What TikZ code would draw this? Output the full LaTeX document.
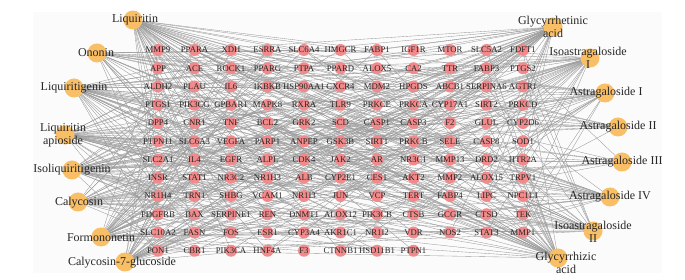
\documentclass[tikz,border=0pt]{standalone}
\usepackage{fontspec}
\setmainfont{Liberation Serif}
\definecolor{tred}{HTML}{F28A8C}
\definecolor{corange}{HTML}{F9BF66}
\definecolor{edgegray}{HTML}{9A9A9A}
\definecolor{bggray}{HTML}{FBFBFB}
\pgfdeclarelayer{bg}
\pgfdeclarelayer{edges}
\pgfsetlayers{bg,edges,main}
\tikzset{
  tdot/.style={circle,fill=tred,draw=none,minimum size=12pt,inner sep=0pt},
  tlab/.style={font=\fontsize{8.7}{9}\selectfont,inner sep=0pt,text=black!85},
  cdot/.style={circle,fill=corange,draw=none,minimum size=19pt,inner sep=0pt},
  clab/.style={font=\fontsize{12}{13}\selectfont,inner sep=0pt,align=center,text=black!85},
  link/.style={draw=edgegray,line width=0.35pt}
}
\begin{document}
\begin{tikzpicture}[x=1pt,y=-1pt]
\useasboundingbox (0,0) rectangle (685,280);
\begin{pgfonlayer}{bg}
  \fill[bggray] (33,12) rectangle (662,273);
\end{pgfonlayer}
% target grid
\foreach \g [count=\n] in {
  MMP9,PPARA,XDH,ESRRA,SLC6A4,HMGCR,FABP1,IGF1R,MTOR,SLC5A2,FDFT1,
  APP,ACE,ROCK1,PPARG,PTPA,PPARD,ALOX5,CA2,TTR,FABP3,PTGS2,
  ALDH2,PLAU,IL6,IKBKB,HSP90AA1,CXCR4,MDM2,HPGDS,ABCB1,SERPINA6,AGTR1,
  PTGS1,PIK3CG,GPBAR1,MAPK8,RXRA,TLR9,PRKCE,PRKCA,CYP17A1,SIRT2,PRKCD,
  DPP4,CNR1,TNF,BCL2,GRK2,SCD,CASP1,CASP3,F2,GLUL,CYP2D6,
  PTPN11,SLC6A3,VEGFA,PARP1,ANPEP,GSK3B,SIRT1,PRKCB,SELE,CASP8,SOD1,
  SLC2A1,IL4,EGFR,ALPL,CDK4,JAK2,AR,NR3C1,MMP13,DRD2,HTR2A,
  INSR,STAT1,NR3C2,NR1H3,ALB,CYP2E1,CES1,AKT2,MMP2,ALOX15,TRPV1,
  NR1H4,TRN1,SHBG,VCAM1,NR1I3,JUN,VCP,TERT,FABP4,LIPC,NPC1L1,
  PDGFRB,BAX,SERPINE1,REN,DNMT1,ALOX12,PIK3CB,CTSB,GCGR,CTSD,TEK,
  SLC10A2,FASN,FOS,ESR1,CYP3A4,AKR1C1,NR1I2,VDR,NOS2,STAT3,MMP1,
  PON1,CBR1,PIK3CA,HNF4A,F3,CTNNB1,HSD11B1,PTPN1}{
  \pgfmathtruncatemacro\rr{int((\n-1)/11)}
  \pgfmathtruncatemacro\cc{mod(\n-1,11)}
  \node[tdot,label={[tlab]center:\g},alias=t-\n] (\g) at ({158+36.5*\cc},{50+18.25*\rr}) {};
}
% compounds
\foreach \i/\x/\y/\tx/\ty/\txt in {
  1/133/20/135/20/Liquiritin,
  2/97/53/96/53/Ononin,
  3/74/88/74/88/Liquiritigenin,
  4/65/135/63/135/{Liquiritin\\apioside},
  5/72/170/72/170/Isoliquiritigenin,
  6/78/202/79/203/Calycosin,
  7/101/237/101/238/Formononetin,
  8/125/262/122/263/Calycosin-7-glucoside,
  9/553/27/553/27/{Glycyrrhetinic\\acid},
  10/590/58/588/58/{Isoastragaloside\\I},
  11/605/93/606/93/Astragaloside I,
  12/618/127/618/127/Astragaloside II,
  13/622/162/622/162/Astragaloside III,
  14/610/197/610/197/Astragaloside IV,
  15/593/231/593/232/{Isoastragaloside\\II},
  16/558/258/566/263/{Glycyrrhizic\\acid}}{
  \node[cdot] (c\i) at (\x,\y) {};
  \node[clab] (c\i-t) at (\tx,\ty) {\txt};
}
% connectors
\pgfmathsetseed{11}
\begin{pgfonlayer}{edges}
\foreach \i/\p in {1/0.30,2/0.20,3/0.25,4/0.25,5/0.30,6/0.20,7/0.30,8/0.25,
                   9/0.32,10/0.20,11/0.20,12/0.10,13/0.15,14/0.20,15/0.20,16/0.30}{
  \foreach \n in {1,...,129}{
    \pgfmathtruncatemacro\hit{rnd<\p ? 1 : 0}
    \ifnum\hit=1 \draw[link] (c\i.center) -- (t-\n.center); \fi
  }
}
\end{pgfonlayer}
\end{tikzpicture}
\end{document}
